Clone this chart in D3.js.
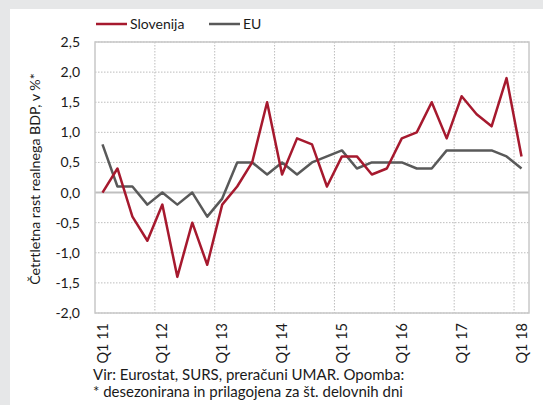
<!DOCTYPE html>
<html>
<head>
<meta charset="utf-8">
<script src="https://cdn.jsdelivr.net/npm/d3@7"></script>
<style>
  html, body { margin: 0; padding: 0; background: #e6e7e8; }
  svg { display: block; font-family: Lato, "Open Sans", sans-serif; }
</style>
</head>
<body>
<script>
// quarters Q1 2011 .. Q1 2018
const quarters = [
  'Q1 11','Q2 11','Q3 11','Q4 11',
  'Q1 12','Q2 12','Q3 12','Q4 12',
  'Q1 13','Q2 13','Q3 13','Q4 13',
  'Q1 14','Q2 14','Q3 14','Q4 14',
  'Q1 15','Q2 15','Q3 15','Q4 15',
  'Q1 16','Q2 16','Q3 16','Q4 16',
  'Q1 17','Q2 17','Q3 17','Q4 17',
  'Q1 18'
];
const slovenija = [0.0, 0.4, -0.4, -0.8, -0.2, -1.4, -0.5, -1.2, -0.2, 0.1, 0.5, 1.5,
                   0.3, 0.9, 0.8, 0.1, 0.6, 0.6, 0.3, 0.4, 0.9, 1.0, 1.5, 0.9,
                   1.6, 1.3, 1.1, 1.9, 0.6];
const eu = [0.8, 0.1, 0.1, -0.2, 0.0, -0.2, 0.0, -0.4, -0.1, 0.5, 0.5, 0.3,
            0.5, 0.3, 0.5, 0.6, 0.7, 0.4, 0.5, 0.5, 0.5, 0.4, 0.4, 0.7,
            0.7, 0.7, 0.7, 0.6, 0.4];
const xTickLabels = ['Q1 11','Q1 12','Q1 13','Q1 14','Q1 15','Q1 16','Q1 17','Q1 18'];
const yTicks = [-2.0, -1.5, -1.0, -0.5, 0.0, 0.5, 1.0, 1.5, 2.0, 2.5];

let width = 543, height = 405;
let plot = {left: 95, right: 529, top: 42, bottom: 313};
let red = '#a6192e', grey = '#595959';
let fontSize = 14;

let svg = d3.select('body').append('svg')
  .attr('width', width)
  .attr('height', height);

// white panel
svg.append('rect')
  .attr('x', 10).attr('y', 9)
  .attr('width', width - 10).attr('height', height - 9)
  .attr('fill', '#fff');

let xScale = d3.scaleBand().domain(quarters).range([plot.left, plot.right]).padding(0);
let yScale = d3.scaleLinear().domain([-2, 2.5]).range([plot.bottom, plot.top]);
let xMid = (q) => xScale(q) + xScale.bandwidth() / 2;
let fmt = (v) => d3.format('.1f')(v).replace('.', ',').replace('−', '-');

// horizontal grid
svg.append('g')
  .selectAll('line')
  .data(yTicks.filter(v => v !== 0))
  .enter()
  .append('line')
  .attr('x1', plot.left).attr('x2', plot.right)
  .attr('y1', d => yScale(d)).attr('y2', d => yScale(d))
  .attr('stroke', '#bdbdbd')
  .attr('stroke-dasharray', '1.5,1.5');

// vertical grid at start of each year
svg.append('g')
  .selectAll('line')
  .data(xTickLabels.slice(1))
  .enter()
  .append('line')
  .attr('x1', d => xScale(d)).attr('x2', d => xScale(d))
  .attr('y1', plot.top).attr('y2', plot.bottom)
  .attr('stroke', '#bdbdbd')
  .attr('stroke-dasharray', '1.5,1.5');

// zero line
svg.append('line')
  .attr('x1', plot.left).attr('x2', plot.right)
  .attr('y1', yScale(0)).attr('y2', yScale(0))
  .attr('stroke', '#bfbfbf')
  .attr('stroke-width', 2);

// plot border
svg.append('rect')
  .attr('x', plot.left).attr('y', plot.top)
  .attr('width', plot.right - plot.left).attr('height', plot.bottom - plot.top)
  .attr('fill', 'none')
  .attr('stroke', '#c8c8c8')
  .attr('stroke-width', 1.5);

// y axis labels
let yAxis = d3.axisLeft(yScale)
  .tickValues(yTicks)
  .tickFormat(fmt)
  .tickSize(0)
  .tickPadding(15);
let yg = svg.append('g')
  .attr('transform', 'translate(' + plot.left + ',0)')
  .call(yAxis);
yg.select('.domain').remove();
yg.selectAll('text')
  .attr('font-family', 'Lato, sans-serif')
  .attr('font-size', fontSize)
  .attr('fill', '#1a1a1a');

// x axis labels (rotated)
let xAxis = d3.axisBottom(xScale)
  .tickValues(xTickLabels)
  .tickSize(0)
  .tickPadding(0);
let xg = svg.append('g')
  .attr('transform', 'translate(0,' + plot.bottom + ')')
  .call(xAxis);
xg.select('.domain').remove();
xg.selectAll('text')
  .attr('font-family', 'Lato, sans-serif')
  .attr('font-size', 14.5)
  .attr('fill', '#1a1a1a')
  .attr('transform', 'rotate(-90)')
  .attr('text-anchor', 'end')
  .attr('x', -10)
  .attr('y', 0)
  .attr('dy', '0.35em');

// lines
let line = d3.line()
  .x((d, i) => xMid(quarters[i]))
  .y(d => yScale(d));

svg.append('path')
  .datum(eu)
  .attr('d', line)
  .attr('fill', 'none')
  .attr('stroke', grey)
  .attr('stroke-width', 2.5)
  .attr('stroke-linejoin', 'round');

svg.append('path')
  .datum(slovenija)
  .attr('d', line)
  .attr('fill', 'none')
  .attr('stroke', red)
  .attr('stroke-width', 2.5)
  .attr('stroke-linejoin', 'round');

// legend
let legend = [
  {name: 'Slovenija', color: red, x: 96},
  {name: 'EU', color: grey, x: 209}
];
let lg = svg.append('g');
lg.selectAll('line')
  .data(legend)
  .enter()
  .append('line')
  .attr('x1', d => d.x).attr('x2', d => d.x + 31)
  .attr('y1', 24).attr('y2', 24)
  .attr('stroke', d => d.color)
  .attr('stroke-width', 2.5);
lg.selectAll('text')
  .data(legend)
  .enter()
  .append('text')
  .attr('x', d => d.x + 34)
  .attr('y', 24)
  .attr('dy', '0.35em')
  .attr('font-size', fontSize)
  .attr('fill', '#1a1a1a')
  .text(d => d.name);

// y axis caption
svg.append('text')
  .attr('transform', 'translate(35,' + 179 + ') rotate(-90)')
  .attr('text-anchor', 'middle')
  .attr('dy', '0.35em')
  .attr('font-size', 14.2)
  .attr('fill', '#1a1a1a')
  .text('Četrtletna rast realnega BDP, v %*');

// source / note
svg.append('text')
  .attr('x', 93).attr('y', 380)
  .attr('font-size', 15)
  .attr('fill', '#1a1a1a')
  .text('Vir: Eurostat, SURS, preračuni UMAR. Opomba:');
svg.append('text')
  .attr('x', 93).attr('y', 397)
  .attr('font-size', 15)
  .attr('fill', '#1a1a1a')
  .text('* desezonirana in prilagojena za št. delovnih dni');
</script>
</body>
</html>
